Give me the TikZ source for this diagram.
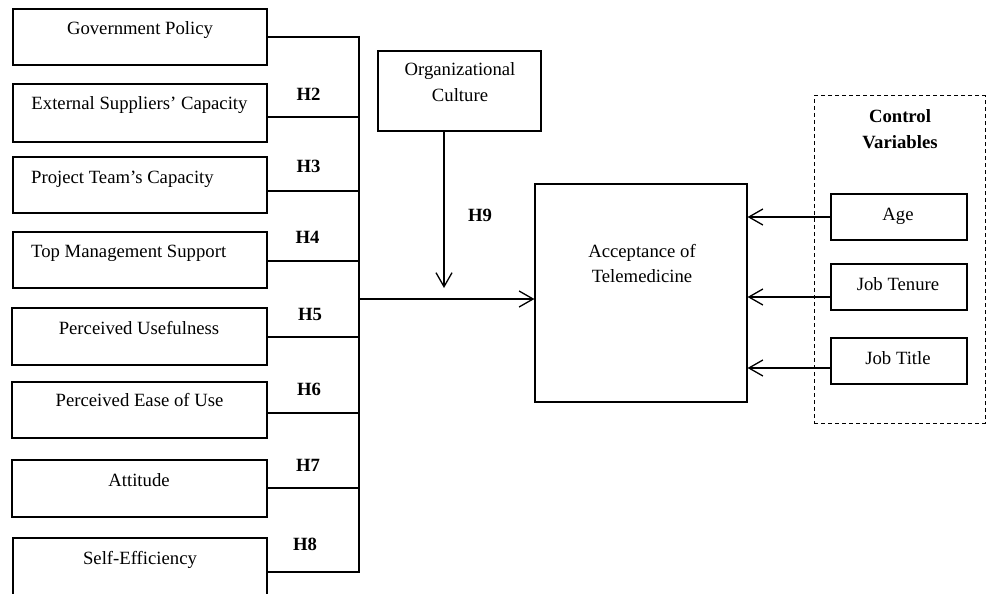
\documentclass[tikz,border=0pt]{standalone}
\usepackage{fontspec}
\setmainfont{Liberation Serif}
\usetikzlibrary{arrows.meta}
\begin{document}
\begin{tikzpicture}[x=1pt,y=-1pt,
  font=\fontsize{18.7}{22}\selectfont,
  box/.style={draw, line width=1.2pt, inner sep=0pt, minimum width=254pt},
  txt/.style={inner sep=0pt, anchor=base},
  hlab/.style={inner sep=0pt, anchor=base, font=\fontsize{18.7}{22}\selectfont\bfseries},
  conn/.style={line width=2pt},
  arr/.style={line width=1.3pt, -{Straight Barb[length=14pt,width=16pt,line width=1.3pt]}}]
\useasboundingbox (0,0) rectangle (989,594);
\clip (0,0) rectangle (989,594);

% left boxes
\node[box, minimum height=56pt] (b1) at (140,37) {};
\node[box, minimum height=58pt] (b2) at (140,113) {};
\node[box, minimum height=56pt] (b3) at (140,185) {};
\node[box, minimum height=56pt] (b4) at (140,260) {};
\node[box, minimum height=57pt, minimum width=255pt] (b5) at (139.5,336.5) {};
\node[box, minimum height=56pt, minimum width=255pt] (b6) at (139.5,410) {};
\node[box, minimum height=57pt, minimum width=255pt] (b7) at (139.5,488.5) {};
\node[box, minimum height=68pt] (b8) at (140,572) {};

\node[txt] (t1) at (140,35) {Government Policy};
\node[txt] (t2) at (139.5,110) {External Suppliers’ Capacity};
\node[txt, anchor=base west] (t3) at (31,183) {Project Team’s Capacity};
\node[txt, anchor=base west] (t4) at (31,257) {Top Management Support};
\node[txt] (t5) at (139,334) {Perceived Usefulness};
\node[txt] (t6) at (139.5,406) {Perceived Ease of Use};
\node[txt] (t7) at (139,486) {Attitude};
\node[txt] (t8) at (140,564) {Self-Efficiency};

% hypothesis labels
\node[hlab] (h2) at (308.5,100) {H2};
\node[hlab] (h3) at (308.5,172) {H3};
\node[hlab] (h4) at (307.5,243) {H4};
\node[hlab] (h5) at (310,320) {H5};
\node[hlab] (h6) at (309,395) {H6};
\node[hlab] (h7) at (308,471) {H7};
\node[hlab] (h8) at (305,550) {H8};
\node[hlab] (h9) at (480,221) {H9};

% connectors to the bus
\coordinate (v1) at (359,37);
\coordinate (v2) at (359,117);
\coordinate (v3) at (359,191);
\coordinate (v4) at (359,261);
\coordinate (v5) at (359,337);
\coordinate (v6) at (359,413);
\coordinate (v7) at (359,488);
\coordinate (v8) at (359,572);
\draw[conn] (b1.east |- v1) -- (v1);
\draw[conn] (b2.east |- v2) -- (v2);
\draw[conn] (b3.east |- v3) -- (v3);
\draw[conn] (b4.east |- v4) -- (v4);
\draw[conn] (b5.east |- v5) -- (v5);
\draw[conn] (b6.east |- v6) -- (v6);
\draw[conn] (b7.east |- v7) -- (v7);
\draw[conn] (b8.east |- v8) -- (v8);
\draw[conn] ([yshift=1pt]v1) -- ([yshift=-1pt]v8);

% organizational culture
\node[box, minimum width=163pt, minimum height=80pt] (org) at (459.5,91) {};
\node[txt] (org1) at (460,76) {Organizational};
\node[txt] (org2) at (460,102) {Culture};

% acceptance
\node[box, minimum width=212pt, minimum height=218pt] (acc) at (641,293) {};
\node[txt] (acc1) at (642,257) {Acceptance of};
\node[txt] (acc2) at (642,282) {Telemedicine};

% main arrow
\coordinate (m) at (359,299);
\draw[arr] (m) -- (acc.west |- m);
\coordinate (o2) at (444,288);
\draw[arr] (org.south -| o2) -- (o2);

% control variables
\node[draw, dashed, dash pattern=on 4pt off 3pt, line width=1pt, inner sep=0pt,
  minimum width=171pt, minimum height=327pt] (cv) at (899.5,259.5) {};
\node[hlab] (cv1) at (900,123) {Control};
\node[hlab] (cv2) at (900,148) {Variables};

\node[box, minimum width=136pt, minimum height=46pt] (age) at (899,217) {};
\node[box, minimum width=136pt, minimum height=46pt] (jt) at (899,287) {};
\node[box, minimum width=136pt, minimum height=46pt] (jti) at (899,361) {};
\node[txt] (age1) at (898,220) {Age};
\node[txt] (jt1) at (898,290) {Job Tenure};
\node[txt] (jti1) at (898,364) {Job Title};

\coordinate (y2) at (0,297);
\coordinate (y3) at (0,368);
\draw[arr] (age.west) -- (acc.east |- age.west);
\draw[arr] (jt.west |- y2) -- (acc.east |- y2);
\draw[arr] (jti.west |- y3) -- (acc.east |- y3);
\end{tikzpicture}
\end{document}
